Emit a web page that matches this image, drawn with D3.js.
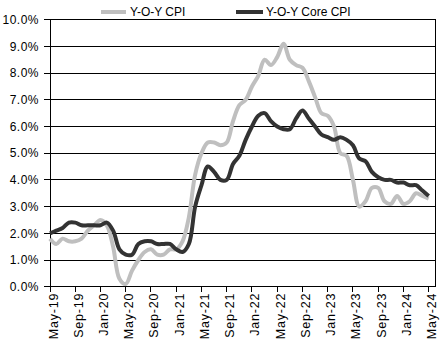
<!DOCTYPE html>
<html><head><meta charset="utf-8">
<script src="https://cdn.jsdelivr.net/npm/d3@7"></script>
<style>body{margin:0;background:#fff}svg{display:block;font-family:"Liberation Sans",Arial,sans-serif}</style>
</head><body><svg id="c" width="440" height="342"></svg>
<script>
const months = ["Jan","Feb","Mar","Apr","May","Jun","Jul","Aug","Sep","Oct","Nov","Dec"];
const cpi = [1.8,1.6,1.8,1.7,1.7,1.8,2.1,2.3,
  2.5,2.3,1.5,0.3,0.1,0.6,1.0,1.3,1.4,1.2,1.2,1.4,
  1.4,1.7,2.6,4.2,5.0,5.4,5.4,5.3,5.4,6.2,6.8,7.0,
  7.5,7.9,8.5,8.3,8.6,9.1,8.5,8.3,8.2,7.7,7.1,6.5,
  6.4,6.0,5.0,4.9,4.0,3.0,3.2,3.7,3.7,3.2,3.1,3.4,
  3.1,3.2,3.5,3.4,3.3];
const core = [2.0,2.1,2.2,2.4,2.4,2.3,2.3,2.3,
  2.3,2.4,2.1,1.4,1.2,1.2,1.6,1.7,1.7,1.6,1.6,1.6,
  1.4,1.3,1.6,3.0,3.8,4.5,4.3,4.0,4.0,4.6,4.9,5.5,
  6.0,6.4,6.5,6.2,6.0,5.9,5.9,6.3,6.6,6.3,6.0,5.7,
  5.6,5.5,5.6,5.5,5.3,4.8,4.7,4.3,4.1,4.0,4.0,3.9,
  3.9,3.8,3.8,3.6,3.4];
const yTicks = [0,1,2,3,4,5,6,7,8,9,10];
const seriesNames = ["Y-O-Y CPI","Y-O-Y Core CPI"];
const colors = ["#bfbfbf","#333333"];

// month index -> label (series starts May 2019)
function label(i){ const m = (4 + i) % 12; const yr = 19 + Math.floor((4 + i) / 12); return months[m] + "-" + yr; }
const xTickIdx = d3.range(0, cpi.length, 4);

const svg = d3.select("#c");
const L = 50, R = 435, T = 19.7, B = 286.7;
const x = d3.scaleLinear().domain([0, cpi.length]).range([L, R]);
const y = d3.scaleLinear().domain([0, 10]).range([B, T]);

// gridlines
svg.append("g").selectAll("line").data(yTicks).join("line")
  .attr("x1", L - 6).attr("x2", R).attr("y1", d => y(d)).attr("y2", d => y(d))
  .attr("stroke", "#000").attr("stroke-width", 1).attr("shape-rendering","crispEdges");
// border
svg.append("rect").attr("x", L).attr("y", T).attr("width", R - L).attr("height", B - T)
  .attr("fill", "none").attr("stroke", "#000").attr("shape-rendering","crispEdges");

// y labels
svg.append("g").selectAll("text").data(yTicks).join("text")
  .attr("x", L - 11).attr("y", d => y(d)).attr("dy", "0.35em")
  .attr("text-anchor", "end").attr("font-size", 12).attr("letter-spacing", 0.5)
  .text(d => d.toFixed(1) + "%");

// x axis ticks & labels
const xa = svg.append("g");
xa.selectAll("line").data(xTickIdx).join("line")
  .attr("x1", d => x(d)).attr("x2", d => x(d)).attr("y1", B).attr("y2", B + 5)
  .attr("stroke", "#000").attr("shape-rendering","crispEdges");
xa.selectAll("text").data(xTickIdx).join("text")
  .attr("transform", d => `translate(${x(d)},${B + 6}) rotate(-90)`)
  .attr("dy", "0.6em").attr("text-anchor", "end").attr("font-size", 12.5).attr("letter-spacing", 0.8)
  .text(d => label(d));

// lines
const line = d3.line().x((d, i) => x(i)).y(d => y(d)).curve(d3.curveCatmullRom.alpha(0.5));
[cpi, core].forEach((s, k) => {
  svg.append("path").datum(s).attr("d", line).attr("fill", "none")
    .attr("stroke", colors[k]).attr("stroke-width", 4).attr("stroke-linejoin","round").attr("stroke-linecap","butt");
});

// legend
const leg = [[101, 126, 130], [236, 263, 266]];
seriesNames.forEach((n, k) => {
  svg.append("line").attr("x1", leg[k][0]).attr("x2", leg[k][1]).attr("y1", 12).attr("y2", 12)
    .attr("stroke", colors[k]).attr("stroke-width", 4);
  svg.append("text").attr("x", leg[k][2]).attr("y", 12).attr("dy", "0.35em")
    .attr("font-size", 12).text(n);
});
</script></body></html>
